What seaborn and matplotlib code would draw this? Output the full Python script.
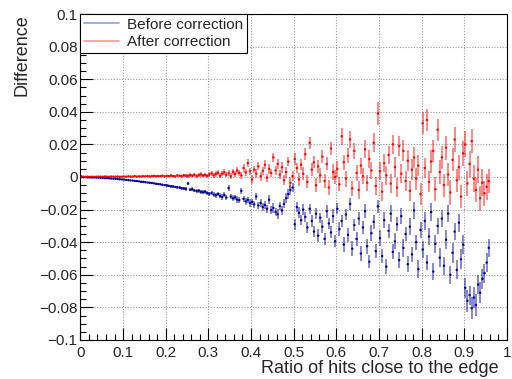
import numpy as np
import pandas as pd
import seaborn as sns
import matplotlib
matplotlib.use("Agg")
import matplotlib.pyplot as plt
from matplotlib.lines import Line2D
from matplotlib.ticker import MultipleLocator

# valores, em unidades de 1e-3 (bins de 0.005 entre 0 e 0.96)
diff_before_milli = [
    0.0, -0.1, -0.1, -0.2, -0.2, -0.3, -0.3, -0.4, -0.4, -0.5,
    -0.6, -0.7, -0.7, -0.8, -0.9, -1.0, -1.1, -1.2, -1.4, -1.5,
    -1.6, -1.8, -1.9, -2.1, -2.2, -2.4, -2.5, -2.7, -2.9, -3.0,
    -3.2, -3.4, -3.5, -3.7, -3.9, -4.1, -4.3, -4.5, -4.7, -5.0,
    -5.2, -5.4, -5.7, -5.8, -6.1, -6.3, -6.5, -6.9, -7.0, -7.3,
    -4.0, -7.8, -7.5, -8.3, -8.6, -8.4, -9.1, -9.3, -9.0, -9.9,
    -10.3, -9.8, -10.8, -11.2, -10.5, -11.6, -12.3, -11.0, -12.6, -6.8,
    -12.0, -13.1, -12.5, -13.8, -14.2, -8.5, -13.4, -15.0, -14.1, -16.0,
    -15.3, -16.8, -12.0, -17.5, -16.0, -18.4, -17.2, -19.5, -14.0, -20.3,
    -19.0, -21.5, -22.8, -17.8, -20.5, -16.5, -13.0, -10.5, -8.0, -6.5,
    -29.0, -18.5, -22.0, -26.5, -20.0, -24.5, -31.0, -19.5, -27.0, -33.5,
    -22.5, -36.0, -25.0, -30.5, -38.0, -21.0, -28.5, -34.0, -24.0, -39.5,
    -19.5, -32.0, -27.0, -41.5, -23.0, -35.5, -16.5, -44.0, -29.5, -38.0,
    -25.5, -47.0, -31.0, -21.0, -42.5, -52.0, -34.5, -27.5, -45.5, -18.0,
    -37.5, -48.5, -26.5, -55.0, -33.0, -22.5, -46.0, -39.5, -29.0, -51.0,
    -24.0, -43.5, -35.0, -53.5, -30.5, -47.5, -20.5, -40.0, -56.5, -32.5,
    -44.5, -27.0, -52.5, -36.5, -21.5, -58.0, -41.0, -30.0, -49.5, -25.5,
    -54.5, -38.5, -22.5, -60.0, -46.5, -33.5, -57.0, -28.0, -50.5, -41.5,
    -68.0, -76.0, -72.5, -80.5, -74.0, -78.5, -66.0, -71.0, -62.5, -59.0,
    -52.5, -43.5,
]
err_before_milli = [
    0.4, 0.2, 0.2, 0.2, 0.2, 0.2, 0.2, 0.2, 0.3, 0.2,
    0.2, 0.3, 0.2, 0.3, 0.3, 0.3, 0.3, 0.3, 0.3, 0.4,
    0.3, 0.4, 0.4, 0.4, 0.4, 0.4, 0.5, 0.4, 0.5, 0.5,
    0.5, 0.5, 0.5, 0.6, 0.5, 0.6, 0.6, 0.6, 0.7, 0.6,
    0.7, 0.7, 0.8, 0.7, 0.8, 0.8, 0.9, 0.8, 0.9, 1.0,
    0.9, 1.0, 1.1, 1.0, 1.1, 1.2, 1.1, 1.2, 1.3, 1.2,
    1.3, 1.4, 1.3, 1.5, 1.4, 1.5, 1.6, 1.5, 1.7, 1.6,
    1.7, 1.8, 1.6, 1.9, 1.8, 2.0, 1.9, 2.1, 2.0, 2.2,
    2.1, 2.3, 2.2, 2.4, 2.5, 2.3, 2.6, 2.4, 2.7, 2.6,
    2.8, 2.5, 2.9, 2.7, 3.0, 2.8, 3.1, 2.9, 3.2, 3.0,
    3.3, 2.9, 3.4, 3.1, 3.6, 3.2, 3.5, 3.0, 3.7, 3.3,
    3.4, 3.8, 3.2, 3.9, 3.5, 4.0, 3.3, 3.7, 4.1, 3.6,
    3.5, 4.2, 3.8, 4.4, 3.6, 4.1, 3.9, 4.5, 3.7, 4.3,
    4.0, 4.6, 3.8, 4.4, 4.7, 4.1, 4.9, 4.2, 4.5, 3.9,
    4.8, 4.3, 5.0, 4.5, 4.2, 5.2, 4.6, 4.9, 4.4, 5.1,
    4.7, 5.3, 4.5, 5.0, 5.4, 4.8, 5.2, 4.6, 5.5, 4.9,
    5.0, 5.6, 4.8, 5.3, 5.7, 5.1, 5.5, 4.9, 5.8, 5.2,
    5.4, 5.9, 5.1, 5.6, 6.0, 5.3, 5.8, 5.5, 6.1, 5.7,
    6.2, 6.6, 5.9, 6.8, 6.3, 6.7, 6.0, 6.5, 6.1, 5.8,
    6.0, 5.6,
]
diff_after_milli = [
    0.3, 0.2, 0.1, 0.2, 0.1, 0.2, 0.1, 0.2, 0.2, 0.1,
    0.2, 0.3, 0.2, 0.1, 0.3, 0.2, 0.2, 0.3, 0.1, 0.2,
    0.3, 0.2, 0.4, 0.2, 0.3, 0.5, 0.2, 0.4, 0.3, 0.5,
    0.4, 0.6, 0.3, 0.5, 0.7, 0.4, 0.6, 0.5, 0.8, 0.4,
    0.7, 0.5, 0.9, 0.6, 0.4, 1.0, 0.7, 0.5, 1.1, 0.8,
    0.6, 1.2, 0.8, 1.4, 0.5, 1.1, 1.6, 0.9, 1.3, 0.7,
    1.5, 2.2, 1.0, 1.8, 2.6, 0.8, 2.0, 3.0, 1.4, 2.4,
    0.6, 3.2, 1.8, 4.0, 2.5, 1.0, 5.5, 2.8, 8.5, 3.5,
    -1.5, 4.5, 2.0, 6.5, 0.5, 3.8, 7.5, -0.5, 5.0, 2.5,
    12.0, 4.0, 8.0, 1.5, 6.0, -2.0, 3.0, 9.5, -3.5, 0.5,
    11.0, 5.5, -1.5, 7.5, 2.0, 14.0, -3.0, 21.0, 4.5, 9.0,
    -5.0, 6.5, 1.0, 12.5, -2.5, 8.0, -6.5, 17.5, 3.0, 0.0,
    5.0, -4.5, 25.0, 9.0, -1.0, 13.0, 23.0, -7.0, 16.0, 2.5,
    -8.0, 7.0, 0.5, 17.0, -3.5, 11.0, 4.0, 21.0, -5.5, 39.0,
    3.5, -9.0, 8.5, 1.0, 13.5, -4.0, 20.0, 6.0, -6.5, 19.0,
    2.0, 16.0, -2.5, 10.0, -8.5, 4.5, 12.0, -1.0, 7.0, -10.5,
    33.0, 5.5, 35.0, -3.0, 9.5, 16.0, -7.5, 29.0, 3.0, 12.0,
    -5.0, 18.0, 1.5, -9.5, 10.5, 23.0, -2.0, 6.0, -12.0, 14.5,
    20.0, -4.0, 8.0, 22.0, -1.0, -8.0, 4.5, -13.0, -3.5, -10.0,
    -6.0, -2.5,
]
err_after_milli = [
    0.8, 0.3, 0.2, 0.2, 0.2, 0.2, 0.2, 0.2, 0.2, 0.2,
    0.2, 0.2, 0.3, 0.2, 0.3, 0.3, 0.3, 0.3, 0.3, 0.3,
    0.3, 0.4, 0.3, 0.4, 0.4, 0.4, 0.4, 0.5, 0.4, 0.5,
    0.5, 0.5, 0.6, 0.5, 0.6, 0.6, 0.6, 0.7, 0.6, 0.7,
    0.7, 0.8, 0.7, 0.8, 0.8, 0.9, 0.8, 0.9, 1.0, 0.9,
    1.0, 1.1, 1.0, 1.2, 1.1, 1.2, 1.3, 1.2, 1.3, 1.4,
    1.4, 1.5, 1.4, 1.6, 1.5, 1.7, 1.6, 1.8, 1.7, 1.9,
    1.8, 2.0, 1.9, 2.1, 2.0, 2.2, 2.3, 2.1, 2.4, 2.2,
    2.5, 2.3, 2.6, 2.4, 2.7, 2.5, 2.8, 2.6, 2.9, 2.7,
    3.0, 2.8, 3.2, 2.9, 3.3, 3.1, 3.4, 3.0, 3.5, 3.2,
    3.6, 3.3, 3.8, 3.4, 3.9, 3.5, 4.0, 3.7, 4.1, 3.6,
    4.2, 3.8, 4.4, 3.9, 4.5, 4.0, 4.6, 4.1, 4.7, 4.3,
    4.8, 4.4, 5.2, 4.6, 4.9, 4.5, 5.3, 4.7, 5.0, 4.8,
    5.4, 4.9, 5.1, 5.6, 5.0, 5.5, 5.2, 5.8, 5.3, 7.0,
    5.5, 5.9, 5.4, 6.0, 5.6, 6.1, 5.7, 6.2, 5.8, 6.3,
    5.9, 6.4, 6.0, 6.5, 6.1, 6.6, 6.2, 6.7, 6.3, 6.8,
    6.9, 6.4, 7.0, 6.5, 7.1, 6.6, 7.2, 6.7, 7.3, 6.8,
    7.0, 7.4, 6.9, 7.5, 7.1, 7.6, 7.2, 7.7, 7.3, 7.8,
    8.0, 7.4, 8.1, 7.5, 8.2, 7.6, 8.3, 7.7, 8.4, 7.8,
    7.9, 7.2,
]

bin_width = 0.005
ratio = bin_width * (np.arange(len(diff_before_milli)) + 0.5)  # centro dos bins

df = pd.DataFrame({
    "ratio": np.concatenate([ratio, ratio]),
    "diff": np.array(diff_before_milli + diff_after_milli) * 1e-3,
    "err": np.array(err_before_milli + err_after_milli) * 1e-3,
    "serie": ["Before correction"] * len(ratio) + ["After correction"] * len(ratio),
})

cores = {"Before correction": "#000099", "After correction": "#ff0000"}

sns.set_style("white")
plt.rcParams["font.family"] = ["Liberation Sans", "DejaVu Sans"]

fig = plt.figure(figsize=(5.12, 3.79), dpi=100)
ax = fig.add_axes([0.157, 0.103, 0.833, 0.86])

# barras de erro de cada serie
for serie, cor in cores.items():
    sub = df[df["serie"] == serie]
    ax.errorbar(sub["ratio"], sub["diff"], yerr=sub["err"], fmt="none",
                ecolor=cor, elinewidth=1.2, alpha=0.55)
sns.scatterplot(data=df, x="ratio", y="diff", hue="serie", palette=cores,
                s=3, linewidth=0, legend=False, ax=ax)

ax.set_xlim(0, 1)
ax.set_ylim(-0.1, 0.1)
ax.set_xticks(np.arange(0, 1.01, 0.1))
ax.set_xticklabels(["0", "0.1", "0.2", "0.3", "0.4", "0.5", "0.6", "0.7", "0.8", "0.9", "1"])
ax.set_yticks(np.arange(-0.1, 0.101, 0.02))
ax.set_yticklabels(["\u22120.1", "\u22120.08", "\u22120.06", "\u22120.04", "\u22120.02", "0",
                    "0.02", "0.04", "0.06", "0.08", "0.1"])
ax.xaxis.set_minor_locator(MultipleLocator(0.02))
ax.yaxis.set_minor_locator(MultipleLocator(0.005))
ax.tick_params(which="both", direction="in", bottom=True, left=True, top=False, right=False,
               color="black", width=0.8)
ax.tick_params(which="major", length=9, labelsize=11)
ax.tick_params(which="minor", length=4.5)
ax.tick_params(axis="x", pad=4)
ax.tick_params(axis="y", pad=2)
ax.grid(True, which="major", color="#999999", linestyle=(0, (1, 1.5)), linewidth=0.8)
for s in ax.spines.values():
    s.set_color("black")
    s.set_linewidth(0.8)

ax.set_xlabel("Ratio of hits close to the edge", fontsize=13, ha="right", x=0.98, labelpad=0)
ax.set_ylabel("Difference", fontsize=13, ha="right", y=1.0, labelpad=6)

handles = [Line2D([], [], color=c, lw=1.2, alpha=0.4) for c in cores.values()]
leg = ax.legend(handles, list(cores.keys()), loc="upper left", bbox_to_anchor=(0, 1),
                borderaxespad=0, fancybox=False, framealpha=1, edgecolor="black",
                fontsize=11, handlelength=2.3, borderpad=0.25, labelspacing=0.2,
                handletextpad=0.5)
leg.get_frame().set_linewidth(0.8)

fig.savefig("out.png", dpi=100)
